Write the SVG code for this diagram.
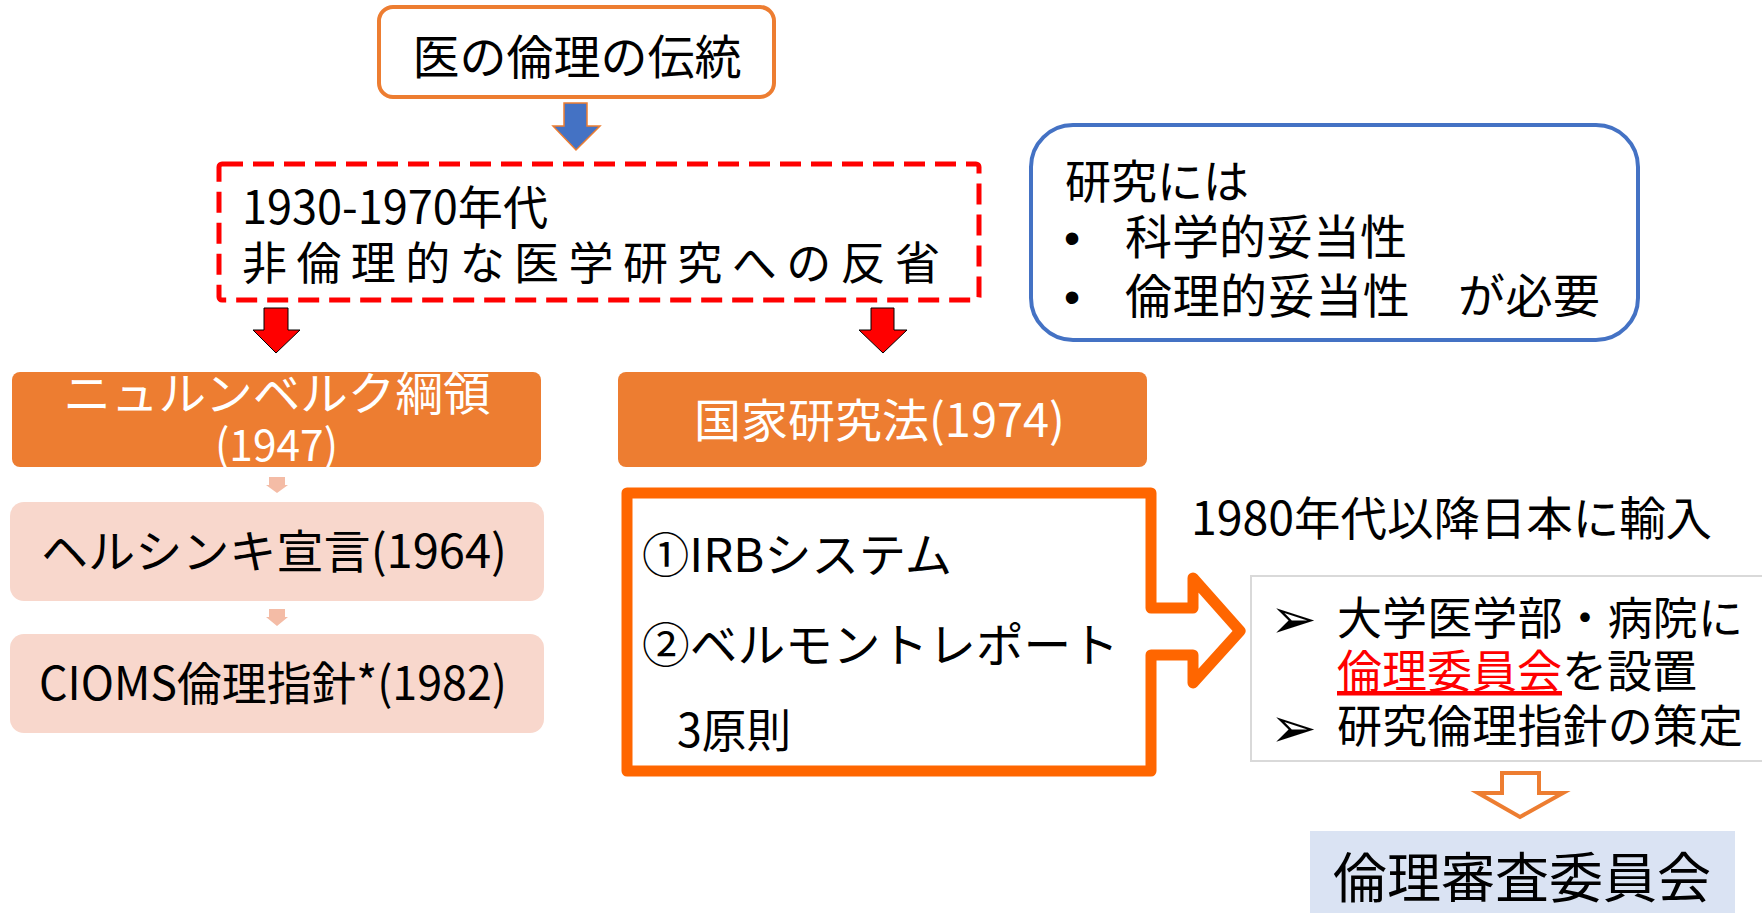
<svg xmlns="http://www.w3.org/2000/svg" width="1762" height="913" viewBox="0 0 1762 913">
<style>
.t{font-family:'Noto Sans CJK JP','Noto Sans',sans-serif;fill:#000}
.w{fill:#fff}
.orange{fill:#ED7D31}
.pink{fill:#F8D7CC}
.redarrow{fill:#FF0000;stroke:#000;stroke-width:1}
.pinkarrow{fill:#F4BCA6}
.mark{font-family:'DejaVu Sans',sans-serif;fill:#000}
</style>
<rect width="1762" height="913" fill="#fff"/>
<g id="connectors">
  <polygon id="arrow-top" points="564,103 587,103 587,126 600,126 576,150 553,126 564,126" fill="#4472C4" stroke="#ED7D31" stroke-width="1.5"/>
  <polygon id="arrow-left" class="redarrow" points="264,308 288,308 288,330 300,330 276,353 253,330 264,330"/>
  <polygon id="arrow-right" class="redarrow" points="871,308 894,308 894,330 907,330 883,353 859,330 871,330"/>
  <polygon id="arrow-s1" class="pinkarrow" points="269,477 285,477 285,485 288,485 277,493 266,485 269,485"/>
  <polygon id="arrow-s2" class="pinkarrow" points="269,609 285,609 285,617 288,617 277,626 266,617 269,617"/>
  <polygon id="arrow-bottom" points="1502,773 1539,773 1539,793 1563,793 1520,817 1478,793 1502,793" fill="#fff" stroke="#ED7D31" stroke-width="4"/>
</g>
<g id="node-tradition">
  <rect x="379" y="7" width="395" height="90" rx="14" fill="#fff" stroke="#ED7D31" stroke-width="4"/>
  <text class="t" x="577" y="74" font-size="47" text-anchor="middle">医の倫理の伝統</text>
</g>
<g id="node-reflection">
  <rect x="219" y="164" width="760" height="136" rx="3" fill="#fff" stroke="#FF0000" stroke-width="5" stroke-dasharray="21 10"/>
  <text class="t" x="242" y="224" font-size="46" textLength="306" lengthAdjust="spacingAndGlyphs">1930-1970年代</text>
  <text class="t" x="242" y="280" font-size="45" textLength="698">非倫理的な医学研究への反省</text>
</g>
<g id="node-requirements">
  <rect x="1031" y="125" width="607" height="215" rx="42" fill="#fff" stroke="#4472C4" stroke-width="4"/>
  <text class="t" x="1065" y="198" font-size="46">研究には</text>
  <text x="1064" y="254" font-size="46" style="font-family:'Liberation Sans',sans-serif">•</text>
  <text class="t" x="1125" y="254" font-size="47">科学的妥当性</text>
  <text x="1064" y="313" font-size="46" style="font-family:'Liberation Sans',sans-serif">•</text>
  <text class="t" x="1125" y="313" font-size="47" textLength="475">倫理的妥当性　が必要</text>
</g>
<g id="node-nuremberg">
  <rect class="orange" x="12" y="372" width="529" height="95" rx="8"/>
  <text class="t w" x="277" y="410" font-size="46" text-anchor="middle" textLength="427" lengthAdjust="spacingAndGlyphs">ニュルンベルク綱領</text>
  <text class="t w" x="215" y="461" font-size="44" textLength="123" lengthAdjust="spacingAndGlyphs">(1947)</text>
</g>
<g id="node-helsinki">
  <rect class="pink" x="10" y="502" width="534" height="99" rx="14"/>
  <text class="t" x="41" y="568" font-size="46" textLength="466" lengthAdjust="spacingAndGlyphs">ヘルシンキ宣言(1964)</text>
</g>
<g id="node-cioms">
  <rect class="pink" x="10" y="634" width="534" height="99" rx="14"/>
  <text class="t" x="39" y="700" font-size="46" textLength="468" lengthAdjust="spacingAndGlyphs">CIOMS倫理指針*(1982)</text>
</g>
<g id="node-national-research-act">
  <rect class="orange" x="618" y="372" width="529" height="95" rx="8"/>
  <text class="t w" x="694" y="437" font-size="46" textLength="371" lengthAdjust="spacingAndGlyphs">国家研究法(1974)</text>
</g>
<g id="node-irb-belmont">
  <path d="M627,493 H1151 V608 H1193 V578 L1240,631 L1193,683 V655 H1151 V771 H627 Z" fill="#fff" stroke="#FF6600" stroke-width="11" stroke-linejoin="round"/>
  <text class="t" x="642" y="572" font-size="47" textLength="310" lengthAdjust="spacingAndGlyphs">①IRBシステム</text>
  <text class="t" x="642" y="662" font-size="47" textLength="477" lengthAdjust="spacingAndGlyphs">②ベルモントレポート</text>
  <text class="t" x="677" y="747" font-size="46" textLength="114" lengthAdjust="spacingAndGlyphs">3原則</text>
</g>
<g id="node-import-label">
  <text class="t" x="1191" y="535" font-size="46" textLength="521" lengthAdjust="spacingAndGlyphs">1980年代以降日本に輸入</text>
</g>
<g id="node-japan-list">
  <rect x="1251" y="576" width="530" height="185" fill="#fff" stroke="#D9D9D9" stroke-width="2"/>
  <text class="mark" x="1270" y="638" font-size="56">➢</text>
  <text class="t" x="1337" y="635" font-size="45" textLength="406">大学医学部・病院に</text>
  <text class="t" x="1337" y="688" font-size="45"><tspan fill="#FF0000" text-decoration="underline">倫理委員会</tspan>を設置</text>
  <text class="mark" x="1270" y="747" font-size="56">➢</text>
  <text class="t" x="1337" y="743" font-size="45" textLength="406">研究倫理指針の策定</text>
</g>
<g id="node-review-board">
  <rect x="1310" y="831" width="425" height="90" fill="#DAE3F3"/>
  <text class="t" x="1333" y="898" font-size="54">倫理審査委員会</text>
</g>
</svg>
